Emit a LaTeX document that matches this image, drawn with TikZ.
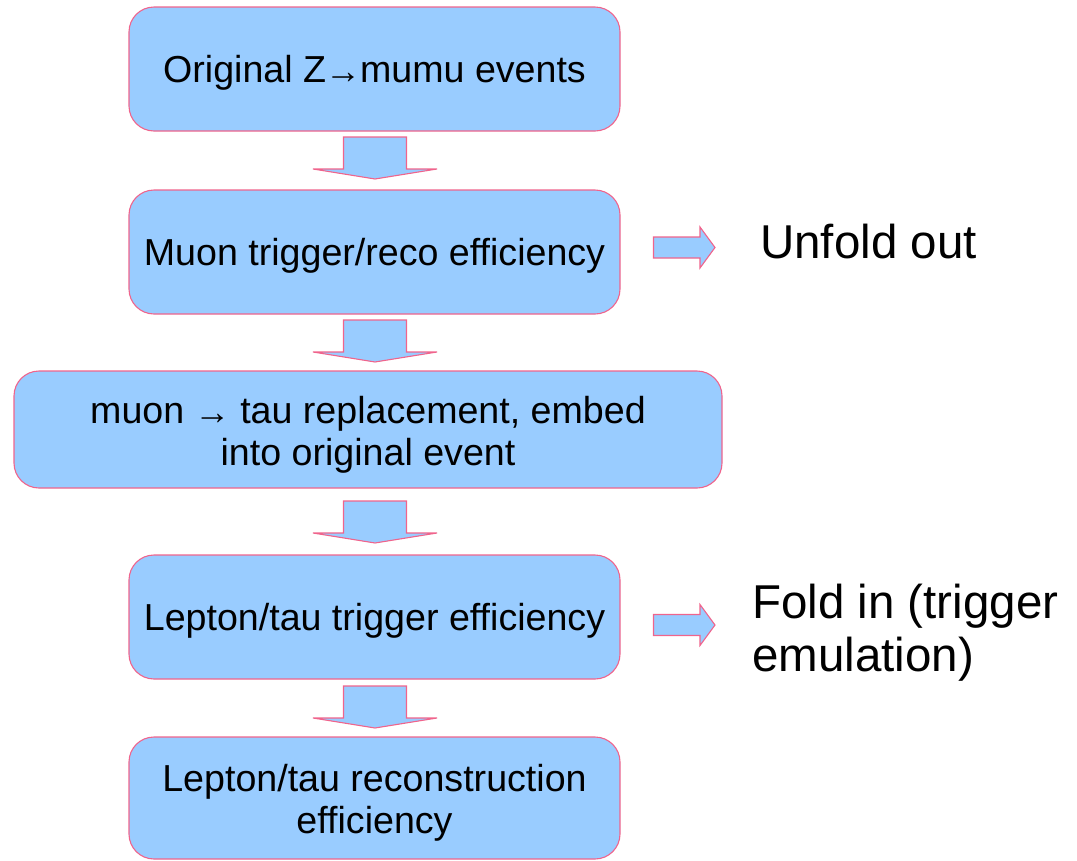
\documentclass[tikz,border=0pt]{standalone}
\usepackage{fontspec}
\setmainfont{Liberation Sans}
\newcommand\smallarr{\raisebox{-1pt}{\fontsize{36}{36}\selectfont →}}
\definecolor{boxfill}{HTML}{99CCFF}
\definecolor{boxline}{HTML}{F0648C}
\begin{document}
\begin{tikzpicture}[x=1pt,y=-1pt,
  box/.style={draw=boxline,fill=boxfill,line width=1.1pt,rounded corners=25pt,
    minimum width=491pt,minimum height=124pt,align=center,inner sep=0pt,
    text height=26pt,text depth=0pt,
    font=\fontsize{37.6}{42}\selectfont},
  blk/.style={draw=boxline,fill=boxfill,line width=1.1pt,line join=miter},
  side/.style={inner sep=0pt,align=left,font=\fontsize{47.5}{53}\selectfont}]
\useasboundingbox (0,0) rectangle (1077,860);
\node[box] (b1) at (374.5,69) {Original Z\hspace{-1pt}\smallarr\hspace{-1pt}mumu events};
\node[box] (b2) at (374.5,252) {Muon trigger/reco efficiency};
\node[box,minimum width=708pt,minimum height=117pt,text height=71pt] (b3) at (368,429.5) {muon\hspace{10pt}\smallarr\hspace{10pt}tau replacement, embed\\into original event};
\node[box] (b4) at (374.5,617) {Lepton/tau trigger efficiency};
\node[box,minimum height=122pt,text height=70pt] (b5) at (374.5,798) {Lepton/tau reconstruction\\efficiency};
% down block arrows
\foreach \t in {137,320,501,686}{
  \draw[blk] (343.5,\t) -- (406.5,\t) -- (406.5,\t+32) -- (437,\t+32) -- (375,\t+42)
    -- (313,\t+32) -- (343.5,\t+32) -- cycle;
}
% right block arrows
\foreach \c in {247.5,625}{
  \draw[blk] (653.5,\c-10.5) -- (700,\c-10.5) -- (700,\c-20.5) -- (715,\c)
    -- (700,\c+20.5) -- (700,\c+10.5) -- (653.5,\c+10.5) -- cycle;
}
\node[side,anchor=base west] (t1) at (760,258) {Unfold out};
\node[side,anchor=base west] (t2) at (752,671) {Fold in (trigger\\emulation)};
\end{tikzpicture}
\end{document}
